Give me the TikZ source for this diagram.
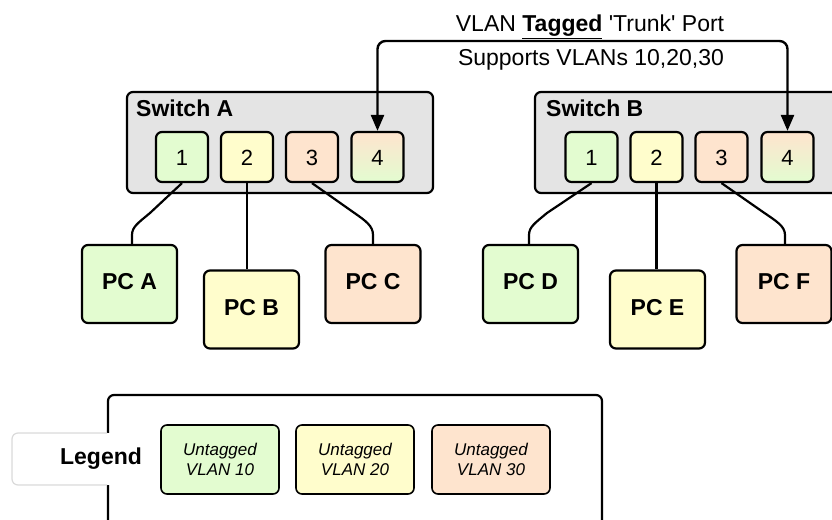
\documentclass[tikz,border=0pt]{standalone}
\usepackage{fontspec}
\setmainfont{Liberation Sans}
\usetikzlibrary{arrows.meta}

\definecolor{vgreen}{RGB}{227,252,208}
\definecolor{vyellow}{RGB}{255,253,204}
\definecolor{vorange}{RGB}{254,228,206}
\definecolor{swgray}{RGB}{228,228,228}
\definecolor{lblborder}{RGB}{218,218,218}

\begin{document}
\begin{tikzpicture}[x=1pt,y=-1pt,
  box/.style={draw=black, line width=2.2pt, rounded corners=6pt, inner sep=0pt},
  switchbox/.style={box, fill=swgray, minimum height=101pt},
  swlabel/.style={anchor=base west, inner sep=0pt, font=\fontsize{23}{27}\selectfont\bfseries},
  port/.style={box, minimum width=52pt, minimum height=50pt,
    font=\fontsize{22}{26}\selectfont, text height=16pt, text depth=0pt},
  pc/.style={box, minimum width=95pt, minimum height=78pt,
    font=\fontsize{23}{27}\selectfont\bfseries, text height=16pt, text depth=5pt},
  legitem/.style={box, line width=1.6pt, minimum width=118pt, minimum height=69pt,
    align=center, font=\fontsize{17}{20}\selectfont\itshape},
  wire/.style={line width=2.2pt},
  trunk/.style={line width=2.4pt, rounded corners=8pt,
    {Triangle[length=16pt,width=13pt]}-{Triangle[length=16pt,width=13pt]}},
  caption/.style={anchor=base, inner sep=0pt, font=\fontsize{23}{27}\selectfont}
]
\useasboundingbox (0,0) rectangle (832,519);
\clip (0,0) rectangle (832,519);

% switches
\node[switchbox, minimum width=306pt] (swA) at (280,142.5) {};
\node[switchbox, minimum width=310pt] (swB) at (690,142.5) {};
\node[swlabel] (swAlbl) at (136,116.5) {Switch A};
\node[swlabel] (swBlbl) at (546,116.5) {Switch B};

% ports of switch A
\node[port, fill=vgreen]  (pA1) at (182,157) {1};
\node[port, fill=vyellow] (pA2) at (247,157) {2};
\node[port, fill=vorange] (pA3) at (312,157) {3};
\node[port, top color=vorange, middle color=vyellow, bottom color=vgreen] (pA4) at (377.5,157) {4};
% ports of switch B
\node[port, fill=vgreen]  (pB1) at (591.5,157) {1};
\node[port, fill=vyellow] (pB2) at (656.5,157) {2};
\node[port, fill=vorange] (pB3) at (721.5,157) {3};
\node[port, top color=vorange, middle color=vyellow, bottom color=vgreen] (pB4) at (787.5,157) {4};

% hosts
\node[pc, fill=vgreen]  (pcA) at (129.5,284)   {PC A};
\node[pc, fill=vyellow] (pcB) at (251.5,309.5) {PC B};
\node[pc, fill=vorange] (pcC) at (373,284)     {PC C};
\node[pc, fill=vgreen]  (pcD) at (530.5,284)   {PC D};
\node[pc, fill=vyellow] (pcE) at (657.5,309.5) {PC E};
\node[pc, fill=vorange] (pcF) at (784,284)     {PC F};

% access links
\draw[wire] (pA1.south) -- (150,213) .. controls (138,223) and (132,227) .. (132,235) -- (132,245);
\draw[wire] (pA2.south) -- (pA2.south |- pcB.north);
\draw[wire] (pA3.south) -- (353,212) .. controls (366,221) and (373,226) .. (373,235) -- (pcC.north);
\draw[wire] (pB1.south) -- (547,213) .. controls (535,223) and (529,227) .. (529,235) -- (529,245);
\draw[wire] (pB2.south) -- (pB2.south |- pcE.north);
\draw[wire] (pB3.south) -- (763,212) .. controls (776,221) and (785,226) .. (785,235) -- (785,245);

% trunk link between the two switches
\coordinate (trunkTop) at (0,41);
\draw[trunk] (pA4.north) -- (pA4.north |- trunkTop) -- (pB4.north |- trunkTop) -- (pB4.north);
\node[caption] (trunkLbl1) at (590,32) {VLAN \underline{\textbf{Tagged}} \textquotesingle Trunk\textquotesingle{} Port};
\node[caption] (trunkLbl2) at (591,66) {Supports VLANs 10,20,30};

% legend
\draw[line width=2.2pt, rounded corners=6pt] (108,540) -- (108,395) -- (602,395) -- (602,540);
\fill[white, rounded corners=6pt] (12,433) rectangle (60,485);
\fill[white] (40,433) rectangle (112,485);
\draw[lblborder, line width=1.2pt, rounded corners=6pt] (107,433) -- (12,433) -- (12,485) -- (107,485);
\node[anchor=base, inner sep=0pt, font=\fontsize{23}{27}\selectfont\bfseries] (legendLbl) at (101,464) {Legend};
\node[legitem, fill=vgreen]  (leg10) at (220,459.5) {Untagged\\VLAN 10};
\node[legitem, fill=vyellow] (leg20) at (355,459.5) {Untagged\\VLAN 20};
\node[legitem, fill=vorange] (leg30) at (491,459.5) {Untagged\\VLAN 30};
\end{tikzpicture}
\end{document}
